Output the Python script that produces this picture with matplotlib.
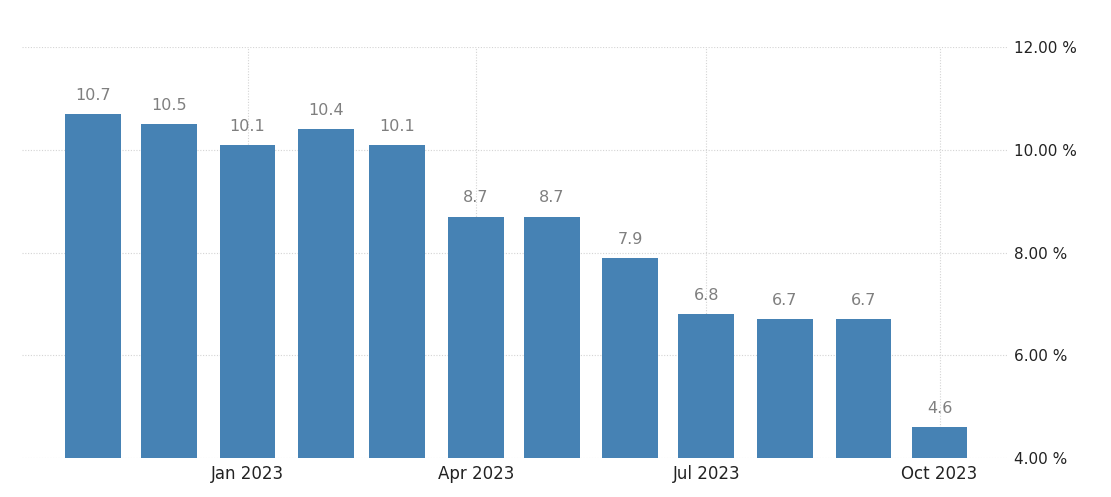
import numpy as np
import pandas as pd
import matplotlib
matplotlib.use("Agg")
import matplotlib.pyplot as plt
import matplotlib.dates as mdates

# data
months = pd.date_range("2022-11-01", "2023-10-01", freq="MS")
values = [10.7, 10.5, 10.1, 10.4, 10.1, 8.7, 8.7, 7.9, 6.8, 6.7, 6.7, 4.6]
tick_dates = pd.to_datetime(["2023-01-01", "2023-04-01", "2023-07-01", "2023-10-01"])
tick_labels = ["Jan 2023", "Apr 2023", "Jul 2023", "Oct 2023"]
y_ticks = [4, 6, 8, 10, 12]

plt.rcParams["font.family"] = ["DejaVu Sans"]

fig = plt.figure(figsize=(11.11, 4.97), dpi=100)
ax = fig.add_axes([0.0198, 0.0785, 0.8875, 0.8269])

ax.bar(months, values, width=22, color="#4682b4", zorder=2)

for d, v in zip(months, values):
    ax.annotate(f"{v:.1f}", (mdates.date2num(d), v), xytext=(0, 8),
                textcoords="offset points", ha="center", va="bottom",
                fontsize=11.5, color="#7f7f7f")

ax.set_ylim(4, 12)
ax.set_xlim(pd.Timestamp("2022-10-04"), pd.Timestamp("2023-10-28"))

ax.set_yticks(y_ticks)
ax.set_yticklabels([f"{t:.2f} %" for t in y_ticks])
ax.yaxis.tick_right()
ax.set_xticks(tick_dates)
ax.set_xticklabels(tick_labels)

ax.tick_params(axis="both", length=0, colors="#222222")
ax.tick_params(axis="y", pad=4, labelsize=11)
ax.tick_params(axis="x", pad=5, labelsize=12)

ax.grid(True, color="#d4d4d4", linestyle=(0, (1, 1.5)), linewidth=0.8, zorder=0)
for s in ax.spines.values():
    s.set_visible(False)

fig.savefig("out.png", dpi=100)
